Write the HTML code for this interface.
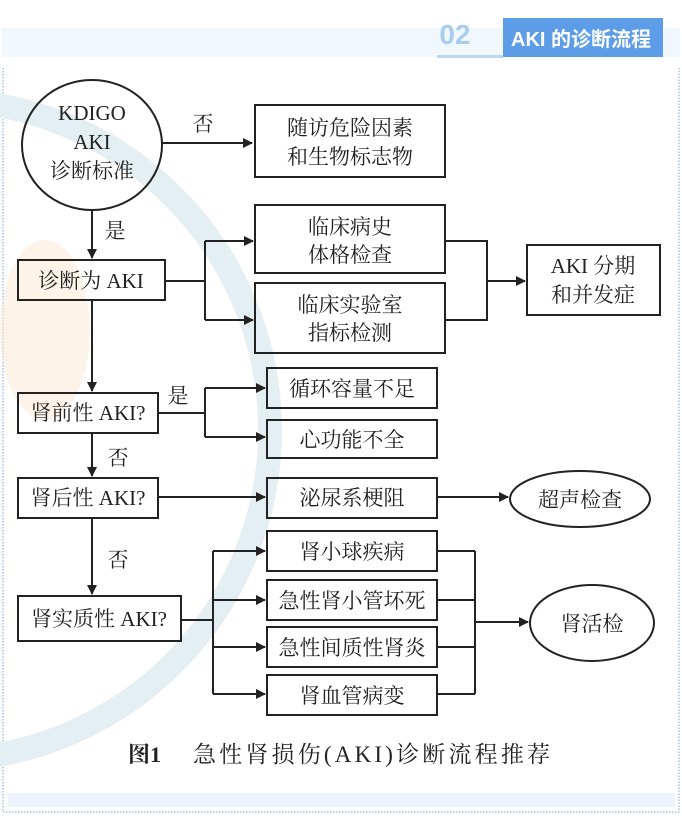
<!DOCTYPE html>
<html><head><meta charset="utf-8"><style>
html,body{margin:0;padding:0;background:#fff;}
body{width:682px;height:828px;overflow:hidden;position:relative;}
svg{position:absolute;left:0;top:0;}
text{font-family:"Liberation Serif","Noto Serif CJK SC",serif;font-size:21px;fill:#222;text-anchor:middle;}
</style></head><body>
<svg width="682" height="828" viewBox="0 0 682 828">
<defs><marker id="a" markerWidth="10" markerHeight="10" refX="9" refY="5" orient="auto" markerUnits="userSpaceOnUse"><path d="M0,0 L10,5 L0,10 z" fill="#222"/></marker></defs>
<rect x="2" y="28" width="678" height="29" fill="#f0f7fd"/>
<text x="455" y="44" style="font-family:'Liberation Sans',sans-serif;font-size:28px;font-weight:bold;fill:#a9cdee">02</text>
<rect x="437" y="55" width="66" height="3" fill="#b9d8f2"/>
<rect x="503" y="18" width="160" height="39" fill="#5d9de8"/>
<text x="581" y="46" style="font-family:'Liberation Sans','Noto Sans CJK SC',sans-serif;font-size:20px;font-weight:bold;fill:#fff">AKI 的诊断流程</text>
<path d="M3,68 V812 H679 V68" fill="none" stroke="#6aa8e0" stroke-width="1" stroke-dasharray="1.5,1.5"/>
<rect x="8" y="793" width="667" height="14" fill="#ecf3fd"/>
<ellipse cx="45" cy="330" rx="45" ry="90" fill="#fbe8d4" opacity="0.5"/>
<circle cx="-60" cy="430" r="330" fill="none" stroke="#e4eff3" stroke-width="24"/>
<g fill="none" stroke="#222" stroke-width="2">
<ellipse cx="92" cy="145" rx="70" ry="65"/>
<rect x="255" y="105" width="190" height="72"/>
<rect x="18" y="260" width="147" height="40"/>
<rect x="255" y="205" width="190" height="68"/>
<rect x="255" y="283" width="190" height="70"/>
<rect x="527" y="245" width="133" height="70"/>
<rect x="18" y="393" width="140" height="40"/>
<rect x="267" y="368" width="170" height="40"/>
<rect x="267" y="420" width="170" height="38"/>
<rect x="18" y="478" width="140" height="40"/>
<rect x="267" y="478" width="170" height="40"/>
<ellipse cx="580" cy="499" rx="70" ry="28"/>
<rect x="18" y="596" width="163" height="45"/>
<rect x="267" y="531" width="170" height="40"/>
<rect x="267" y="580" width="170" height="40"/>
<rect x="267" y="627" width="170" height="40"/>
<rect x="267" y="675" width="170" height="40"/>
<ellipse cx="592" cy="623" rx="62" ry="38"/>
<line x1="162" y1="143" x2="252" y2="143" marker-end="url(#a)"/>
<line x1="92" y1="210" x2="92" y2="258" marker-end="url(#a)"/>
<path d="M165,281 H205 M205,241 V320"/>
<line x1="205" y1="241" x2="253" y2="241" marker-end="url(#a)"/>
<line x1="205" y1="320" x2="253" y2="320" marker-end="url(#a)"/>
<path d="M445,241 H487 V320 H445"/>
<line x1="487" y1="281" x2="525" y2="281" marker-end="url(#a)"/>
<line x1="92" y1="300" x2="92" y2="391" marker-end="url(#a)"/>
<path d="M158,413 H205 M205,388 V437"/>
<line x1="205" y1="388" x2="265" y2="388" marker-end="url(#a)"/>
<line x1="205" y1="437" x2="265" y2="437" marker-end="url(#a)"/>
<line x1="92" y1="433" x2="92" y2="476" marker-end="url(#a)"/>
<line x1="158" y1="497" x2="265" y2="497" marker-end="url(#a)"/>
<line x1="437" y1="497" x2="508" y2="497" marker-end="url(#a)"/>
<line x1="92" y1="518" x2="92" y2="594" marker-end="url(#a)"/>
<path d="M181,620 H213 M213,551 V694"/>
<line x1="213" y1="551" x2="265" y2="551" marker-end="url(#a)"/>
<line x1="213" y1="600" x2="265" y2="600" marker-end="url(#a)"/>
<line x1="213" y1="647" x2="265" y2="647" marker-end="url(#a)"/>
<line x1="213" y1="694" x2="265" y2="694" marker-end="url(#a)"/>
<path d="M437,551 H475 M437,600 H475 M437,647 H475 M437,694 H475 M475,551 V694"/>
<line x1="475" y1="622" x2="528" y2="622" marker-end="url(#a)"/>
</g>
<text x="92" y="120">KDIGO</text>
<text x="92" y="149">AKI</text>
<text x="92" y="178">诊断标准</text>
<text x="203" y="131">否</text>
<text x="350" y="135">随访危险因素</text>
<text x="350" y="164">和生物标志物</text>
<text x="115" y="238">是</text>
<text x="91" y="288">诊断为 AKI</text>
<text x="350" y="234">临床病史</text>
<text x="350" y="262">体格检查</text>
<text x="350" y="312">临床实验室</text>
<text x="350" y="340">指标检测</text>
<text x="593" y="273">AKI 分期</text>
<text x="593" y="302">和并发症</text>
<text x="178" y="403">是</text>
<text x="88" y="420">肾前性 AKI?</text>
<text x="352" y="396">循环容量不足</text>
<text x="352" y="447">心功能不全</text>
<text x="118" y="465">否</text>
<text x="88" y="505">肾后性 AKI?</text>
<text x="352" y="505">泌尿系梗阻</text>
<text x="580" y="507">超声检查</text>
<text x="118" y="567">否</text>
<text x="99" y="626">肾实质性 AKI?</text>
<text x="352" y="559">肾小球疾病</text>
<text x="352" y="608">急性肾小管坏死</text>
<text x="352" y="655">急性间质性肾炎</text>
<text x="352" y="703">肾血管病变</text>
<text x="592" y="631">肾活检</text>
<text x="128" y="762" style="text-anchor:start;font-weight:bold;font-size:22px">图1</text>
<text x="193" y="762" textLength="357" lengthAdjust="spacing" style="text-anchor:start;font-size:23px">急性肾损伤(AKI)诊断流程推荐</text>
</svg>
</body></html>
